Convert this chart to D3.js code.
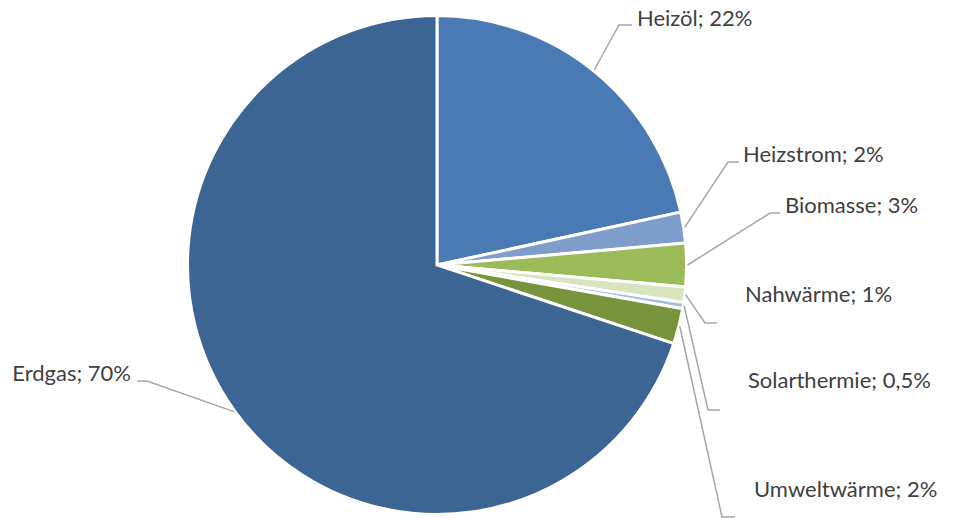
<!DOCTYPE html>
<html>
<head>
<meta charset="utf-8">
<script src="https://cdn.jsdelivr.net/npm/d3@7"></script>
<style>
  html, body { margin: 0; padding: 0; background: #fff; }
  svg { display: block; }
  text { font-family: Lato, "Open Sans", sans-serif; }
</style>
</head>
<body>
<div id="chart"></div>
<script>
// data
var categories = ["Heizöl", "Heizstrom", "Biomasse", "Nahwärme", "Solarthermie", "Umweltwärme", "Erdgas"];
var shares = [21.6, 2.0, 2.8, 1.0, 0.4, 2.3, 69.9];
var shareLabels = ["22%", "2%", "3%", "1%", "0,5%", "2%", "70%"];

var colors = ["#4a7ab3", "#7f9dcb", "#9bbb59", "#d7e4bd", "#a9bfe0", "#77933c", "#3d6594"];

// label placement (leader elbow, leader end, text anchor)
var labelLayout = [
    { elbow: [619, 25],  end: [632, 25],  text: [637, 26],  anchor: "start" },
    { elbow: [728, 162], end: [739, 162], text: [743, 162], anchor: "start" },
    { elbow: [770, 213], end: [780, 213], text: [785, 213], anchor: "start" },
    { elbow: [705, 323], end: [717, 323], text: [745, 302], anchor: "start" },
    { elbow: [708, 410], end: [720, 410], text: [748, 388], anchor: "start" },
    { elbow: [722, 517], end: [735, 517], text: [754, 497], anchor: "start" },
    { elbow: [147, 381], end: [137, 381], text: [131, 381], anchor: "end" }
];

function init(){

    var w = 957;
    var h = 518;
    var cx = 437;
    var cy = 265;
    var r = 249.5;

    var svg = d3.select("#chart")
                .append("svg")
                .attr("width", w)
                .attr("height", h);

    var pie = d3.pie()
                .sort(null)
                .value(function(d){ return d; });

    var arcs = pie(shares);

    var arc = d3.arc()
                .innerRadius(0)
                .outerRadius(r);

    var g = svg.append("g")
                .attr("transform", "translate(" + cx + "," + cy + ")");

    g.selectAll("path")
        .data(arcs)
        .enter()
        .append("path")
        .attr("d", arc)
        .attr("fill", function(d, i){ return colors[i]; })
        .attr("stroke", "#fff")
        .attr("stroke-width", 3)
        .attr("stroke-linejoin", "miter");

    // leader lines
    var line = d3.line();
    svg.selectAll("path.leader")
        .data(arcs)
        .enter()
        .append("path")
        .attr("class", "leader")
        .attr("d", function(d, i){
            var a = (d.startAngle + d.endAngle) / 2;
            var start = [cx + (r + 1) * Math.sin(a), cy - (r + 1) * Math.cos(a)];
            var l = labelLayout[i];
            return line([start, l.elbow, l.end]);
        })
        .attr("fill", "none")
        .attr("stroke", "#a6a6a6")
        .attr("stroke-width", 1.5);

    // labels
    svg.selectAll("text.lbl")
        .data(categories)
        .enter()
        .append("text")
        .attr("class", "lbl")
        .attr("x", function(d, i){ return labelLayout[i].text[0]; })
        .attr("y", function(d, i){ return labelLayout[i].text[1]; })
        .attr("text-anchor", function(d, i){ return labelLayout[i].anchor; })
        .attr("fill", "#404040")
        .style("font-size", "22px")
        .text(function(d, i){ return d + "; " + shareLabels[i]; });
}
window.onload = init;
</script>
</body>
</html>
